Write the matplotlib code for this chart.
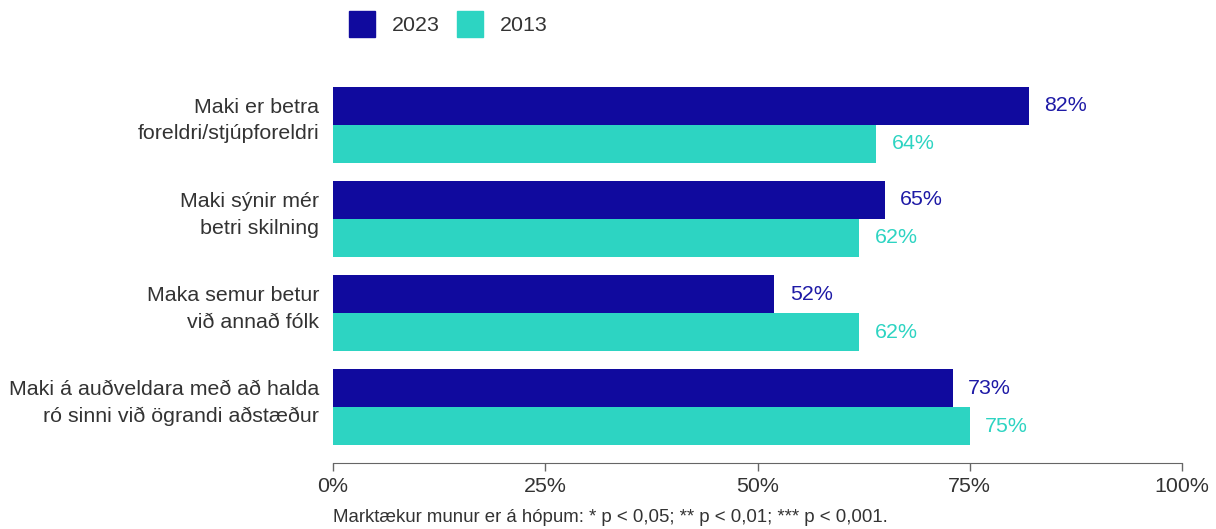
import numpy as np
from matplotlib import pyplot as plt
from matplotlib.patches import Patch

plt.rcParams["font.family"] = ["Liberation Sans", "DejaVu Sans"]

categories = [
    "Maki er betra\nforeldri/stjúpforeldri",
    "Maki sýnir mér\nbetri skilning",
    "Maka semur betur\nvið annað fólk",
    "Maki á auðveldara með að halda\nró sinni við ögrandi aðstæður",
]
years = ["2023", "2013"]
vals_2023 = [82, 65, 52, 73]
vals_2013 = [64, 62, 62, 75]
ticks = [0, 25, 50, 75, 100]
tick_labels = ["0%", "25%", "50%", "75%", "100%"]

c2023 = "#100A9E"
c2013 = "#2DD4C2"
txt = "#333333"
fs = 15.4

fig = plt.figure(figsize=(12.16, 5.29), dpi=100)
ax = fig.add_axes([333 / 1216, 66 / 529, (1182 - 333) / 1216, (463 - 69) / 529])

y = np.arange(len(categories))
h = 0.404
ax.barh(y - h / 2, vals_2023, height=h, color=c2023)
ax.barh(y + h / 2, vals_2013, height=h, color=c2013)

for i in range(len(categories)):
    ax.annotate(f"{vals_2023[i]}%", (vals_2023[i], y[i] - h / 2), xytext=(11, 0),
                textcoords="offset points", va="center", ha="left", fontsize=fs, color="#1E1AA6")
    ax.annotate(f"{vals_2013[i]}%", (vals_2013[i], y[i] + h / 2), xytext=(11, 0),
                textcoords="offset points", va="center", ha="left", fontsize=fs, color=c2013)

ax.set_xlim(0, 100)
ax.set_ylim(len(categories) - 0.5 + 0.095, -0.5 - 0.095)
# labels sit a little above the group centre
ax.set_yticks(y - 0.106)
ax.set_yticklabels(categories, fontsize=fs, color=txt, linespacing=1.5)
ax.tick_params(axis="y", length=0, pad=10)
ax.set_xticks(ticks)
ax.set_xticklabels(tick_labels, fontsize=fs, color=txt)
ax.tick_params(axis="x", length=6, color="#666666", width=1, pad=4)
for s in ["top", "right", "left"]:
    ax.spines[s].set_visible(False)
ax.spines["bottom"].set_color("#666666")

handles = [Patch(color=c2023), Patch(color=c2013)]
fig.legend(handles, years, loc="upper left", bbox_to_anchor=(338 / 1216, 1 - 0 / 529),
           ncol=2, frameon=False, fontsize=fs, handlelength=1.22, handleheight=1.5,
           handletextpad=0.8, columnspacing=0.8, borderpad=0, labelcolor=txt)

fig.text(333 / 1216, 1 - 518 / 529, "Marktækur munur er á hópum: * p < 0,05; ** p < 0,01; *** p < 0,001.",
         fontsize=13.4, color=txt, va="center", ha="left")

fig.savefig("out.png", dpi=100)
